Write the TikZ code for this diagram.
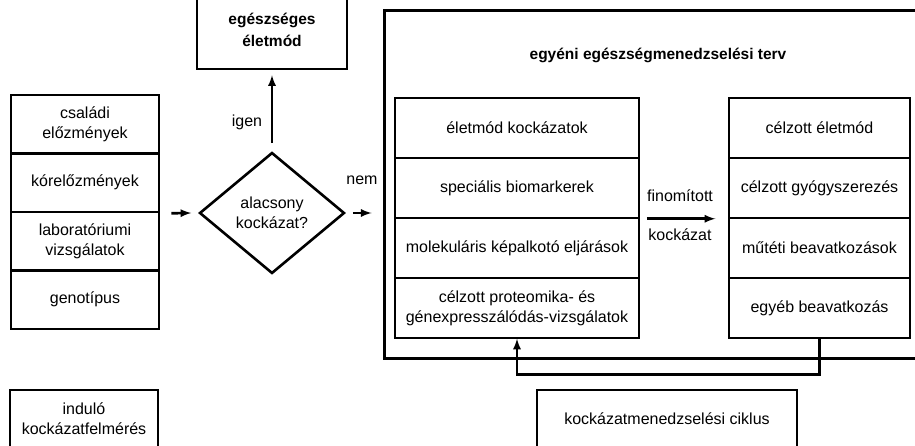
\documentclass[tikz,border=0pt]{standalone}
\usepackage{fontspec}
\setmainfont{Liberation Sans}
\usetikzlibrary{positioning,shapes,arrows}
\tikzset{
	hm_base/.style={font=\fontsize{16}{20}\selectfont, inner sep=0pt, align=center},
	hm_block/.style={hm_base, draw, rectangle, on grid, line width=2.6pt},
	hm_row/.style={hm_block, minimum width=148pt, minimum height=58.5pt},
	hm_inner/.style={hm_base, draw, rectangle, on grid, line width=1.5pt, minimum height=60pt},
	hm_head/.style={hm_base, font=\fontsize{15.5}{22}\selectfont\bfseries},
	hm_decide/.style={hm_base, draw, diamond, on grid, line width=2.6pt, minimum width=145pt, minimum height=121pt},
	hm_label/.style={hm_base},
	hm_line/.style={draw=black, line width=2.6pt, -latex}
}
\begin{document}
\begin{tikzpicture}[x=1pt, y=1pt]
	\useasboundingbox (0,0) rectangle (915,445);
	% kiindulo felmeres
	\node [hm_row] (csal) at (85,320.75) {családi\\előzmények};
	\node [hm_row, below = 58.5pt of csal] (korel) {kórelőzmények};
	\node [hm_row, below = 58.5pt of korel] (labor) {laboratóriumi\\vizsgálatok};
	\node [hm_row, below = 58.5pt of labor] (geno) {genotípus};
	\node [hm_row, line width=2pt, minimum height=58pt] (indulo) at (84,26) {induló\\kockázatfelmérés};

	% dontes
	\node [hm_decide] (alacs) at (272,232) {alacsony\\kockázat?};
	\node [hm_block, hm_head, minimum width=150pt, minimum height=78pt, above = 183pt of alacs] (egesz) {egészséges\\életmód};
	\node [hm_label] (igen) at (247,323) {igen};
	\node [hm_label] (nem) at (362,265) {nem};
	\path [hm_line] ([xshift=11pt]korel.south east) -- ([xshift=-7pt]alacs.west);
	\path [hm_line, shorten <=8pt, shorten >=5pt] (alacs.north) -- (egesz.south);

	% egyeni terv
	\node [hm_block, line width=3pt, minimum width=546pt, minimum height=347pt] (terv) at (657,260.5) {};
	\node [hm_head] (tervcim) at (658,390) {egyéni egészségmenedzselési terv};
	\path [hm_line] ([xshift=7pt]alacs.east) -- ([xshift=-11pt]alacs.east -| terv.west);

	\node [hm_inner, minimum width=244pt] (eletk) at (517,317) {életmód kockázatok};
	\node [hm_inner, minimum width=244pt, below = 60pt of eletk] (biom) {speciális biomarkerek};
	\node [hm_inner, minimum width=244pt, below = 60pt of biom] (molek) {molekuláris képalkotó eljárások};
	\node [hm_inner, minimum width=244pt, below = 60pt of molek] (prot) {célzott proteomika- és\\génexpresszálódás-vizsgálatok};

	\node [hm_inner, minimum width=181pt] (celel) at (819.5,317) {célzott életmód};
	\node [hm_inner, minimum width=181pt, below = 60pt of celel] (gyogy) {célzott gyógyszerezés};
	\node [hm_inner, minimum width=181pt, below = 60pt of gyogy] (mutet) {műtéti beavatkozások};
	\node [hm_inner, minimum width=181pt, below = 60pt of mutet] (egyeb) {egyéb beavatkozás};

	\node [hm_label] (finom) at (680,249) {finomított};
	\node [hm_label] (kockl) at (680,210) {kockázat};
	\path [hm_line] ([xshift=7pt]biom.south east) -- ([xshift=-13pt]gyogy.south west);
	\path [hm_line] (egyeb.south) -- ++(0,-36) -| (prot.south);

	% ciklus
	\node [hm_block, line width=2pt, minimum width=260pt, minimum height=58pt] (ciklus) at (667,26) {kockázatmenedzselési ciklus};
\end{tikzpicture}
\end{document}
